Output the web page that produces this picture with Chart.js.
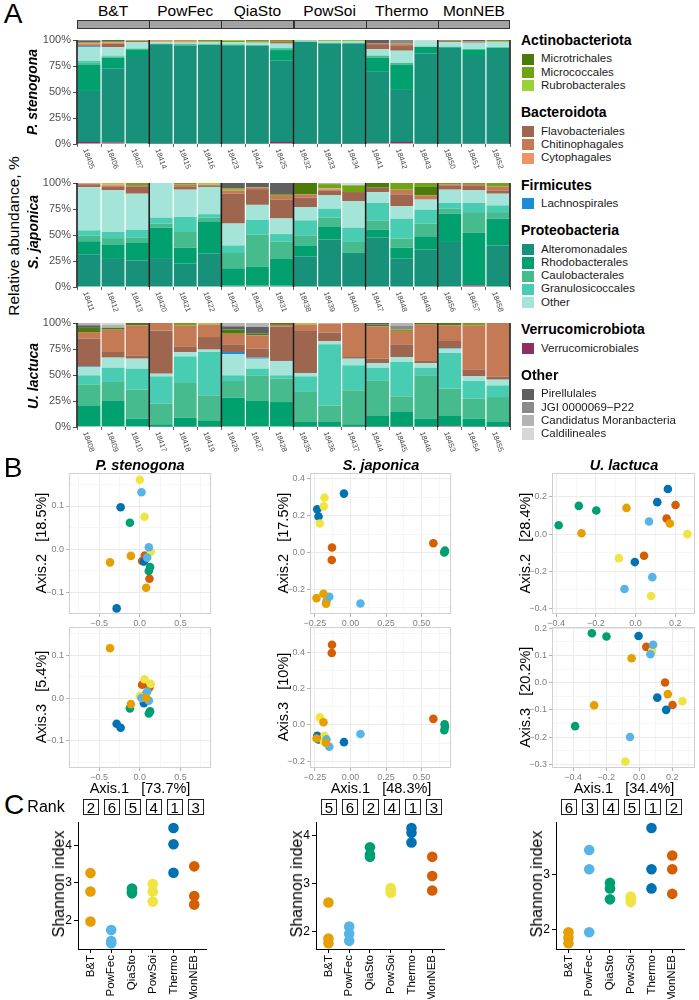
<!DOCTYPE html>
<html><head><meta charset="utf-8">
<script src="https://cdn.jsdelivr.net/npm/chart.js@4.4.1/dist/chart.umd.min.js"></script>
<style>
html,body{margin:0;padding:0;background:#fff}
body{width:699px;height:1000px;position:relative;overflow:hidden;font-family:"Liberation Sans",Arial,sans-serif;color:#000}
.t{position:absolute;white-space:pre;line-height:1}
canvas{position:absolute}
</style></head><body>
<script>
// ---------------- DATA ----------------
const groups = ['B&T','PowFec','QiaSto','PowSoi','Thermo','MonNEB'];
const groupColors = ['#E69F00','#56B4E9','#009E73','#F0E442','#0072B2','#D55E00'];
const taxa = ['Verrucomicrobiales','Alteromonadales','Rhodobacterales','Caulobacterales','Granulosicoccales','Other',
  'Lachnospirales','Flavobacteriales','Chitinophagales','Cytophagales','Microtrichales','Micrococcales','Rubrobacterales',
  'Pirellulales','JGI 0000069\u2212P22','Candidatus Moranbacteria','Caldilineales'];
const taxaColors = ['#8E2F62','#17917A','#00A06F','#45BB8E','#48CDB2','#A5E4D8','#1B8CD8','#9E654F','#C47A55','#EE9466',
  '#4C7B0C','#6FA412','#9DD13A','#606060','#8A8A8A','#B4B4B4','#D7D7D7'];
const phyla = ['Actinobacteriota','Bacteroidota','Firmicutes','Proteobacteria','Verrucomicrobiota','Other'];
const phylaMembers = [[10,11,12],[7,8,9],[6],[1,2,3,4,5],[0],[13,14,15,16]];
const pctTicks = [0,25,50,75,100];

const psSamples = ['18405','18406','18407','18414','18415','18416','18423','18424','18425','18432','18433','18434','18441','18442','18443','18450','18451','18452'];
const sjSamples = ['18411','18412','18413','18420','18421','18422','18429','18430','18431','18438','18439','18440','18447','18448','18449','18456','18457','18458'];
const ulSamples = ['18408','18409','18410','18417','18418','18419','18426','18427','18428','18435','18436','18437','18444','18445','18446','18453','18454','18455'];

// P. stenogona (% per sample)
const psVer = [2,1.5,0.5,0.3,0.3,0.3,0.3,0.3,2,0.2,0.2,0.2,1,2,0.3,0.3,0.3,0.3];
const psAlt = [49,71,85,95.5,94.5,95,94.2,94.2,78.6,98,96.5,96.5,68.4,50,86.7,92.3,84.2,91];
const psRho = [25,10.5,5.5,0.5,1,0.5,1,0.5,9.7,0,0.5,0.5,13.6,24.5,6.5,0.8,6.5,1.5];
const psCau = [2,1,0.5,0,0,0,0,0,1,0,0,0,2,1.5,0,0,0,0];
const psGra = [2,1,0.5,0,0,0,0,0,1.2,0,0,0,0,0,0,0,0,0];
const psOth = [13,8,6,1.5,1.7,2,2.5,2.5,4,1.2,1.5,1.5,6,11.7,5.5,4.5,6.4,5.5];
const psLac = [1,0,0,0,0,0,0,0,0,0,0,0,0,0,0,0,0,0];
const psFla = [1,3.5,1,0,0,0.5,0,1,1.5,0,0,0,5,4.5,0,1,1,0.6];
const psChi = [1,1,0.5,0.5,0.5,0.5,0,0,1,0,0,0,1,1.8,0,0,0.6,0];
const psCyt = [1,0.5,0,1,1.2,0,0,0,0,0,0,0,0,0,0,0,0,0];
const psMtr = [0.5,0,0,0,0,0,0,0,0,0,0,0,0,0,0,0,0,0];
const psMic = [0.5,1,0.5,0.7,0.8,1.2,1.5,1.5,1,0.6,1,1,0,0.5,0,0.5,0,1.1];
const psRub = [0,0,0,0,0,0,0.5,0,0,0,0.3,0.3,0,0,0,0,0,0];
const psPir = [1.5,1,0,0,0,0,0,0,0,0,0,0,3,0,0,0.6,1,0];
const psJGI = [0.5,0,0,0,0,0,0,0,0,0,0,0,0,3.5,0,0,0,0];
const psCan = [0,0,0,0,0,0,0,0,0,0,0,0,0,0,0,0,0,0];
const psCal = [0,0,0,0,0,0,0,0,0,0,0,0,0,0,1,0,0,0];

// S. japonica
const sjVer = [0,0,0,0,0,0,0.5,0.5,0.5,0,0,0,0,0,0,0,1.5,0];
const sjAlt = [31.5,27,25.6,27,22.4,32,1,1,1,29.5,45.5,32.7,47.4,27.2,35.9,43.3,0.5,40];
const sjRho = [12.5,14,16.7,30,15.4,30.5,16.5,18.2,26,10.5,12.8,0.5,7.7,10.6,12.8,27.2,50,25.7];
const sjCau = [5.5,6,5,4,15.1,4.2,14.7,30.5,16,9.7,8.4,10.1,9,8.7,12.2,4.8,20,6.3];
const sjGra = [5,6,7.7,5.7,14.4,3.3,7.3,14.4,7.4,14.4,8.6,13.7,16.7,19.2,13.5,5.5,8.8,6.5];
const sjOth = [41.5,40,34.7,33.3,26.3,26.2,21,14.4,15,12.8,12.8,25.7,10.5,11.9,9.6,12.8,12.1,11.2];
const sjLac = [0,0,0,0,0,0,0,0,0,0,0,0,0,0,0,0,0,0];
const sjFla = [2,3.8,7.1,0,3.2,1.6,28.7,15.1,18.3,9,4.8,8.6,4.2,11.5,0,4.2,4.9,3.2];
const sjChi = [1.5,1,1.2,0,1.6,0.7,3.2,1.5,4.2,3.2,1,0,0,4.5,4.1,1,1.2,3.9];
const sjCyt = [0.3,1,0,0,0,0,0.6,0,0,0,1,0,0,0,0,0,0,0];
const sjMtr = [0,0,0,0,0,0,0,0,0,10.9,0,0,4.5,0,8.7,0,0,0];
const sjMic = [0.2,0,2,0,1.6,0,1.5,0.5,1,0,4,6.5,0,6.4,3.2,1.2,1,3.2];
const sjRub = [0,1.2,0,0,0,1.5,0,0,0,0,0,0,0,0,0,0,0,0];
const sjPir = [0,0,0,0,0,0,5,3.9,10.6,0,0,0,0,0,0,0,0,0];
const sjJGI = [0,0,0,0,0,0,0,0,0,0,0,0,0,0,0,0,0,0];
const sjCan = [0,0,0,0,0,0,0,0,0,0,1.1,0,0,0,0,0,0,0];
const sjCal = [0,0,0,0,0,0,0,0,0,0,0,2.2,0,0,0,0,0,0];

// U. lactuca
const ulVer = [0.5,0.5,0.5,0.3,0.3,0.3,0.5,0.5,0.5,0.3,0.3,0.3,0.3,0.3,0.3,1,0.3,0.3];
const ulAlt = [0.3,0,0,0,0,0,0,0,0,0,0,0,0,0,0,0,0,0];
const ulRho = [20,24.5,7.5,2.3,8.7,6.1,27.7,24.5,23.5,4.5,5.1,2.3,10.9,14.1,7.7,10.2,7.7,4.5];
const ulCau = [20.2,18.3,27.9,19.8,33.3,24,16,24.7,22.5,28.9,15.4,32.7,33.7,15.1,41.7,25.7,19.2,24];
const ulGra = [8.7,13.7,20.2,26.3,25.6,41.7,5.5,6.4,3.2,15,58.7,24,12.1,33,7.3,34.3,17,11.2];
const ulOth = [8,9.7,9.6,2.6,4.2,2.3,20.2,9.6,13.5,3.2,2.9,6.4,4.5,4.8,4.5,4.1,4.5,5.5];
const ulLac = [0.5,0,0,0,0,0,2.2,1,0.3,0,0,0,0,0,0,0.6,0,0];
const ulFla = [26.7,5.4,3.2,41.6,5.5,12.1,7.4,8.6,33,40.4,8.3,1.6,4.2,12.2,2,6.8,6.4,3.2];
const ulChi = [6.4,21.5,28.9,7.1,20.2,12.2,10.2,12.8,1.7,6.4,8.7,32.7,31.1,12.8,34.9,15.1,42.7,51.3];
const ulCyt = [0,0,0,0,0,0,0,0,0,0,0,0,0,0,0,0,0,0];
const ulMtr = [4,1.9,2.2,0,0,0,3.9,1.6,1.8,0,0,0,1.6,0,1.6,2.2,0,0];
const ulMic = [0,0,0,0,2.2,0,0,0,0,0,0,0,0,1.3,0,0,2.2,0];
const ulRub = [0,0,0,0,0,1.3,0,0,0,1.3,0,0,0,0,0,0,0,0];
const ulPir = [2.5,0,0,0,0,0,3.2,6.5,0,0,0,0,1.6,0,0,0,0,0];
const ulJGI = [0,0,0,0,0,0,0,0,0,0,0,0,0,3.5,0,0,0,0];
const ulCan = [2.2,3,0,0,0,0,3.2,3.8,0,0,0.6,0,0,2.9,0,0,0,0];
const ulCal = [0,1.5,0,0,0,0,0,0,0,0,0,0,0,0,0,0,0,0];

// PCoA (3 samples per method, in group order)
const psAxis1 = [-0.366,-0.11,0.077, 0.02,0.11,0.09, -0.122,0.126,0.11, 0.0,0.057,0.134, -0.236,0.05,-0.285, 0.061,0.028,0.118];
const psAxis2 = [-0.031,-0.016,-0.09, 0.132,0.004,-0.02, 0.061,-0.042,-0.051, 0.161,0.075,-0.006, 0.097,-0.029,-0.138, -0.015,-0.028,-0.069];
const psAxis3 = [0.116,-0.014,0.0, 0.0,-0.006,0.015, -0.024,-0.031,-0.036, 0.005,0.044,0.033, -0.069,-0.012,-0.06, 0.007,0.031,0.025];
const sjAxis1 = [-0.239,-0.19,-0.172, -0.149,-0.169,0.07, 0.662,0.66,0.665, -0.183,-0.188,-0.216, -0.046,-0.234,-0.225, -0.13,-0.132,0.583];
const sjAxis2 = [-0.247,-0.223,-0.277, -0.24,-0.263,-0.276, 0.005,0.0,0.01, 0.297,0.25,0.157, 0.319,0.234,0.195, 0.027,-0.041,0.05];
const sjAxis3 = [-0.075,0.014,-0.1, -0.12,-0.08,-0.05, 0.003,-0.03,-0.01, -0.06,-0.09,0.041, -0.095,-0.06,-0.08, 0.44,0.395,0.033];
const ulAxis1 = [-0.046,0.1725,-0.2725, 0.0675,0.084,-0.056, -0.286,-0.198,-0.3875, 0.261,-0.084,0.0775, 0.1625,0.109,-0.004, 0.201,0.156,0.0425];
const ulAxis2 = [0.141,0.057,0.005, 0.068,-0.231,-0.295, 0.152,0.127,0.048, 0.0,-0.129,-0.332, 0.243,0.172,-0.15, 0.157,0.084,-0.116];
const ulAxis3 = [0.09,-0.042,-0.083, 0.105,0.14,-0.2, 0.182,0.17,-0.16, -0.068,-0.29,0.117, -0.1,-0.055,0.172, -0.082,0.001,0.132];
const varPS = ['73.7%','18.5%','5.4%'];
const varSJ = ['48.3%','17.5%','10%'];
const varUL = ['34.4%','28.4%','20.2%'];

// Shannon index (3 samples per method, in group order)
const shPS = [3.26,2.77,1.97, 1.74,1.39,1.45, 2.85,2.77,2.72, 2.97,2.77,2.5, 4.46,4.03,3.27, 3.44,2.65,2.42];
const shSJ = [2.6,1.85,1.75, 2.1,1.95,1.8, 3.75,3.6,3.55, 2.9,2.85,2.8, 4.15,4.05,3.85, 3.55,3.15,2.85];
const shUL = [1.95,1.85,1.75, 3.45,3.1,1.95, 2.85,2.75,2.55, 2.6,2.55,2.5, 3.85,3.1,2.75, 3.35,3.1,2.65];
const rankPS = [2,6,5,4,1,3];
const rankSJ = [5,6,2,4,1,3];
const rankUL = [6,3,4,5,1,2];

// ---------------- HELPERS ----------------
const FONT = '"Liberation Sans", Arial, sans-serif';
Chart.defaults.font.family = FONT;

function T(s, x, y, size, o){
  o = o || {};
  const d = document.createElement('div');
  d.className = 't'; d.textContent = s;
  d.style.left = x+'px'; d.style.top = y+'px'; d.style.fontSize = size+'px';
  if (o.bold) d.style.fontWeight = 'bold';
  if (o.italic) d.style.fontStyle = 'italic';
  if (o.color) d.style.color = o.color;
  let tr = o.left ? 'translate(0,-50%)' : 'translate(-50%,-50%)';
  if (o.rot) tr += ' rotate(-90deg)';
  d.style.transform = tr;
  document.body.appendChild(d);
  return d;
}
function box(x, y, w, h, css){
  const d = document.createElement('div');
  d.style.cssText = 'position:absolute;box-sizing:border-box;left:'+x+'px;top:'+y+'px;width:'+w+'px;height:'+h+'px;'+css;
  document.body.appendChild(d); return d;
}
function makeCanvas(l, t, w, h){
  const c = document.createElement('canvas');
  c.width = Math.round(w); c.height = Math.round(h);
  c.style.left = l+'px'; c.style.top = t+'px';
  c.style.width = Math.round(w)+'px'; c.style.height = Math.round(h)+'px';
  document.body.appendChild(c); return c;
}
function genTicks(min, max, step){
  const out = [];
  for (let k = Math.ceil(min/step - 1e-9); k*step <= max + 1e-9; k++) out.push({value: +(k*step).toFixed(6)});
  return out;
}
const isMul = (v, m) => Math.abs(v/m - Math.round(v/m)) < 1e-6;
const fmt = (v, d) => (v < -1e-9 ? '\u2212' : '') + Math.abs(v).toFixed(d);

// ---------------- PANEL A ----------------
T('A', 13, 14, 28);
const GL = 77, GW = 433;
groups.forEach((g, i) => {
  const x0 = GL + i*GW/6;
  box(x0, 20, GW/6 + (i < 5 ? 1 : 0), 9, 'background:#A3A3A3;border:1px solid #333;');
  T(g, x0 + GW/12, 11, 15.5);
});

const sepPlugin = {
  id: 'sep',
  afterDatasetsDraw(chart){
    const a = chart.chartArea, ctx = chart.ctx;
    const step = (a.right - a.left)/chart.data.labels.length;
    ctx.save(); ctx.strokeStyle = '#1a1a1a'; ctx.lineWidth = 1.6;
    for (let g = 0; g <= 6; g++){
      const x = a.left + g*3*step;
      ctx.beginPath(); ctx.moveTo(x, a.top); ctx.lineTo(x, a.bottom); ctx.stroke();
    }
    ctx.restore();
  }
};
const sampleLabelPlugin = {
  id: 'sampleLabels',
  afterDraw(chart){
    const xs = chart.scales.x, ctx = chart.ctx, a = chart.chartArea;
    ctx.save(); ctx.fillStyle = '#4D4D4D'; ctx.font = '7.5px ' + FONT;
    chart.data.labels.forEach((lab, i) => {
      const x = xs.getPixelForTick(i);
      ctx.save(); ctx.translate(x - 4, a.bottom + 5); ctx.rotate(70*Math.PI/180);
      ctx.textAlign = 'left'; ctx.textBaseline = 'middle'; ctx.fillText(lab, 0, 0); ctx.restore();
    });
    ctx.restore();
  }
};

function barRow(samples, series, top){
  const H = 104, yW = 50, padT = 5, xH = 34, padR = 4;
  const c = makeCanvas(GL - yW, top - padT, yW + GW + padR, padT + H + xH);
  new Chart(c, {
    type: 'bar',
    data: { labels: samples, datasets: series.map((d, i) => ({
      label: taxa[i], data: d, backgroundColor: taxaColors[i], borderWidth: 0,
      barPercentage: 0.95, categoryPercentage: 1, stack: 's' })) },
    options: {
      responsive: false, animation: false, devicePixelRatio: 1,
      layout: { padding: { top: padT, right: padR, left: 0, bottom: 0 } },
      plugins: { legend: { display: false }, tooltip: { enabled: false } },
      scales: {
        x: { stacked: true, ticks: { display: false },
             grid: { display: true, drawOnChartArea: false, tickLength: 3, color: '#666' },
             border: { display: false },
             afterFit: s => { s.height = xH; s.paddingLeft = 0; s.paddingRight = 0; } },
        y: { stacked: true, min: 0, max: 100,
             afterBuildTicks: s => { s.ticks = pctTicks.map(v => ({value: v})); },
             ticks: { callback: v => v + '%', color: '#4D4D4D', font: { size: 11 }, padding: 2 },
             grid: { drawOnChartArea: false, tickLength: 4, color: '#4D4D4D' },
             border: { display: false },
             afterFit: s => { s.width = yW; s.paddingTop = 0; s.paddingBottom = 0; } }
      }
    },
    plugins: [sepPlugin, sampleLabelPlugin]
  });
}
barRow(psSamples, [psVer,psAlt,psRho,psCau,psGra,psOth,psLac,psFla,psChi,psCyt,psMtr,psMic,psRub,psPir,psJGI,psCan,psCal], 40);
barRow(sjSamples, [sjVer,sjAlt,sjRho,sjCau,sjGra,sjOth,sjLac,sjFla,sjChi,sjCyt,sjMtr,sjMic,sjRub,sjPir,sjJGI,sjCan,sjCal], 183);
barRow(ulSamples, [ulVer,ulAlt,ulRho,ulCau,ulGra,ulOth,ulLac,ulFla,ulChi,ulCyt,ulMtr,ulMic,ulRub,ulPir,ulJGI,ulCan,ulCal], 323);

T('Relative abundance, %', 14, 236, 15.5, {rot: true});
T('P. stenogona', 32, 92, 14, {rot: true, bold: true, italic: true});
T('S. japonica', 33, 232, 14, {rot: true, bold: true, italic: true});
T('U. lactuca', 33, 376, 14, {rot: true, bold: true, italic: true});

// legend
(function(){
  let y = 40;
  phyla.forEach((p, pi) => {
    T(p, 521, y, 14, {bold: true, left: true});
    y += 19.3;
    phylaMembers[pi].forEach(ti => {
      box(522, y - 5.6, 11.5, 11.2, 'background:' + taxaColors[ti] + ';');
      T(taxa[ti], 541, y, 11.5, {left: true, color: '#1a1a1a'});
      y += 13.25;
    });
    y += 26.5 - 13.25;
  });
})();

// ---------------- PANEL B ----------------
T('B', 13, 468, 28);
const boxPlugin = {
  id: 'panelBox',
  afterDraw(chart){
    const a = chart.chartArea, ctx = chart.ctx;
    ctx.save(); ctx.strokeStyle = '#D0D0D0'; ctx.lineWidth = 1;
    ctx.strokeRect(Math.round(a.left) + 0.5, Math.round(a.top) + 0.5, Math.round(a.right - a.left) - 1, Math.round(a.bottom - a.top) - 1);
    ctx.restore();
  }
};
function scatter(c){
  const yW = 40, padT = 3, xH = 16, padR = 3;
  const cv = makeCanvas(c.L - yW, c.T - padT, yW + c.W + padR, padT + c.H + xH);
  const gridColor = (m) => (ctx) => isMul(ctx.tick.value, m) ? '#EBEBEB' : '#F6F6F6';
  const tickColor = (m) => (ctx) => isMul(ctx.tick.value, m) ? '#B3B3B3' : 'rgba(0,0,0,0)';
  new Chart(cv, {
    type: 'scatter',
    data: { datasets: groups.map((g, gi) => ({
      label: g, backgroundColor: groupColors[gi], borderWidth: 0, pointRadius: 4.3, pointHoverRadius: 4.3,
      data: [0,1,2].map(k => ({ x: c.ax[gi*3+k], y: c.ay[gi*3+k] })) })) },
    options: {
      responsive: false, animation: false, devicePixelRatio: 1,
      layout: { padding: { top: padT, right: padR, left: 0, bottom: 0 } },
      plugins: { legend: { display: false }, tooltip: { enabled: false } },
      scales: {
        x: { type: 'linear', min: c.xr[0], max: c.xr[1],
             afterBuildTicks: s => { s.ticks = genTicks(c.xr[0], c.xr[1], c.xs); },
             ticks: { autoSkip: false, maxRotation: 0, color: '#7F7F7F', font: { size: 9 }, padding: 1,
                      callback: v => isMul(v, c.xm) ? fmt(v, c.xd) : '' },
             grid: { color: gridColor(c.xm), tickColor: tickColor(c.xm), tickLength: 3, lineWidth: 1 },
             border: { display: false },
             afterFit: s => { s.height = xH; s.paddingLeft = 0; s.paddingRight = 0; } },
        y: { type: 'linear', min: c.yr[0], max: c.yr[1],
             afterBuildTicks: s => { s.ticks = genTicks(c.yr[0], c.yr[1], c.ys); },
             ticks: { autoSkip: false, color: '#7F7F7F', font: { size: 9 }, padding: 2,
                      callback: v => isMul(v, c.ym) ? fmt(v, c.yd) : '' },
             grid: { color: gridColor(c.ym), tickColor: tickColor(c.ym), tickLength: 3, lineWidth: 1 },
             border: { display: false },
             afterFit: s => { s.width = yW; s.paddingTop = 0; s.paddingBottom = 0; } }
      }
    },
    plugins: [boxPlugin]
  });
}
const rowT = [472, 626], rowH = 142;
scatter({L: 69, T: rowT[0], W: 143, H: rowH, ax: psAxis1, ay: psAxis2, xr: [-0.87, 0.87], xs: 0.25, xm: 0.5, xd: 1, yr: [-0.151, 0.176], ys: 0.05, ym: 0.1, yd: 1});
scatter({L: 69, T: rowT[1], W: 143, H: rowH, ax: psAxis1, ay: psAxis3, xr: [-0.87, 0.87], xs: 0.25, xm: 0.5, xd: 1, yr: [-0.163, 0.165], ys: 0.05, ym: 0.1, yd: 1});
scatter({L: 310, T: rowT[0], W: 142, H: rowH, ax: sjAxis1, ay: sjAxis2, xr: [-0.285, 0.705], xs: 0.125, xm: 0.25, xd: 2, yr: [-0.333, 0.429], ys: 0.1, ym: 0.2, yd: 1});
scatter({L: 310, T: rowT[1], W: 142, H: rowH, ax: sjAxis1, ay: sjAxis3, xr: [-0.285, 0.705], xs: 0.125, xm: 0.25, xd: 2, yr: [-0.237, 0.536], ys: 0.1, ym: 0.2, yd: 1});
scatter({L: 552, T: rowT[0], W: 144, H: rowH, ax: ulAxis1, ay: ulAxis2, xr: [-0.421, 0.2975], xs: 0.1, xm: 0.2, xd: 1, yr: [-0.429, 0.327], ys: 0.1, ym: 0.2, yd: 1});
scatter({L: 552, T: rowT[1], W: 144, H: rowH, ax: ulAxis1, ay: ulAxis3, xr: [-0.527, 0.335], xs: 0.1, xm: 0.2, xd: 1, yr: [-0.314, 0.204], ys: 0.05, ym: 0.1, yd: 1});

[['P. stenogona', 140, varPS, 41], ['S. japonica', 381, varSJ, 283], ['U. lactuca', 624, varUL, 525]].forEach(([name, cx, v, ax]) => {
  T(name, cx, 465, 14.5, {bold: true, italic: true});
  T('Axis.1   [' + v[0] + ']', cx, 788, 14.5);
  T('Axis.2   [' + v[1] + ']', ax, 543, 14.5, {rot: true});
  T('Axis.3   [' + v[2] + ']', ax, 697, 14.5, {rot: true});
});

// ---------------- PANEL C ----------------
T('C', 14, 805, 28);
T('Rank', 46, 807, 16);
function strip(L, vals, ranks, labelX){
  const T0 = 820, W = 130, H = 129.3, yW = 30, padT = 3, xH = 50, padR = 4;
  const lo = Math.min(...vals), hi = Math.max(...vals), r = hi - lo;
  const ymin = lo - 0.05*r, ymax = hi + 0.05*r;
  const cv = makeCanvas(L - yW, T0 - padT, yW + W + padR, padT + H + xH);
  new Chart(cv, {
    type: 'scatter',
    data: { datasets: groups.map((g, gi) => ({
      label: g, backgroundColor: groupColors[gi], borderWidth: 0, pointRadius: 5.3, pointHoverRadius: 5.3,
      data: [0,1,2].map(k => ({ x: gi + 1, y: vals[gi*3+k] })) })) },
    options: {
      responsive: false, animation: false, devicePixelRatio: 1,
      layout: { padding: { top: padT, right: padR, left: 0, bottom: 0 } },
      plugins: { legend: { display: false }, tooltip: { enabled: false } },
      scales: {
        x: { type: 'linear', min: 0.4, max: 6.6,
             afterBuildTicks: s => { s.ticks = groups.map((g, i) => ({value: i + 1})); },
             ticks: { autoSkip: false, maxRotation: 90, minRotation: 90, color: '#000', font: { size: 11.5 }, padding: 2,
                      callback: v => groups[Math.round(v) - 1] },
             grid: { drawOnChartArea: false, tickLength: 4, color: '#000' },
             border: { display: true, color: '#000', width: 1 },
             afterFit: s => { s.height = xH; s.paddingLeft = 0; s.paddingRight = 0; } },
        y: { type: 'linear', min: ymin, max: ymax,
             afterBuildTicks: s => { s.ticks = genTicks(ymin, ymax, 1); },
             ticks: { color: '#000', font: { size: 12 }, padding: 2, callback: v => String(v) },
             grid: { drawOnChartArea: false, tickLength: 4, color: '#000' },
             border: { display: true, color: '#000', width: 1 },
             afterFit: s => { s.width = yW; s.paddingTop = 0; s.paddingBottom = 0; } }
      }
    }
  });
  ranks.forEach((rk, i) => {
    const cx = L + (i + 1 - 0.4)*W/6.2;
    box(cx - 8, 799, 16, 15.5, 'border:1.3px solid #222;background:#fff;');
    T(String(rk), cx, 807, 15);
  });
  T('Shannon index', labelX, 884, 16, {rot: true});
}
strip(78.3, shPS, rankPS, 59);
strip(316.4, shSJ, rankSJ, 297);
strip(556.4, shUL, rankUL, 537);
</script>
</body></html>
